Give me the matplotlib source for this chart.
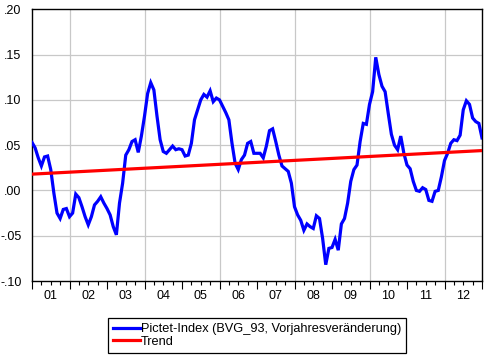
import matplotlib
matplotlib.use("Agg")
import matplotlib.pyplot as plt
import matplotlib.transforms as mtrans
import numpy as np

plt.rcParams['font.family'] = ['Liberation Sans', 'DejaVu Sans']

# Monthly observations, Jan 2001 onward (last point at the right edge)
start_year = 2001
pictet = [
    0.053, 0.047, 0.036, 0.027, 0.037, 0.038, 0.023, -0.003, -0.025, -0.031, -0.021, -0.020,
    -0.029, -0.025, -0.004, -0.008, -0.018, -0.029, -0.038, -0.029, -0.016, -0.012, -0.007, -0.014,
    -0.020, -0.027, -0.040, -0.049, -0.014, 0.008, 0.039, 0.045, 0.054, 0.056, 0.042, 0.060,
    0.082, 0.107, 0.119, 0.111, 0.082, 0.056, 0.043, 0.041, 0.045, 0.049, 0.045, 0.046,
    0.045, 0.038, 0.039, 0.052, 0.078, 0.089, 0.100, 0.106, 0.103, 0.110, 0.098, 0.102,
    0.100, 0.093, 0.086, 0.078, 0.052, 0.030, 0.023, 0.034, 0.039, 0.052, 0.054, 0.041,
    0.041, 0.041, 0.036, 0.049, 0.066, 0.068, 0.054, 0.039, 0.027, 0.024, 0.021, 0.008,
    -0.018, -0.027, -0.033, -0.044, -0.037, -0.040, -0.042, -0.028, -0.031, -0.053, -0.082, -0.064,
    -0.063, -0.054, -0.066, -0.037, -0.031, -0.014, 0.010, 0.023, 0.028, 0.054, 0.074, 0.073,
    0.095, 0.109, 0.147, 0.128, 0.115, 0.109, 0.085, 0.062, 0.050, 0.045, 0.060, 0.041,
    0.028, 0.024, 0.010, 0.000, -0.001, 0.003, 0.001, -0.011, -0.012, -0.001, 0.000, 0.015,
    0.033, 0.041, 0.052, 0.056, 0.055, 0.061, 0.089, 0.099, 0.095, 0.080, 0.076, 0.074,
    0.058,
]
trend_x = [2001.0, 2013.0]
trend_y = [0.018, 0.044]
year_labels = ["01", "02", "03", "04", "05", "06", "07", "08", "09", "10", "11", "12"]
y_ticks = [-0.10, -0.05, 0.00, 0.05, 0.10, 0.15, 0.20]
y_ticklabels = ["-.10", "-.05", ".00", ".05", ".10", ".15", ".20"]
series_names = ["Pictet-Index (BVG_93, Vorjahresveränderung)", "Trend"]

x = start_year + np.arange(len(pictet)) / 12.0

W, H = 485, 355
fig = plt.figure(figsize=(W / 100, H / 100), dpi=100)
L, R, T, B = 32, 482, 9.3, 281
ax = fig.add_axes([L / W, (H - B) / H, (R - L) / W, (B - T) / H])

# grid
for yv in y_ticks[1:-1]:
    ax.axhline(yv, color="#c8c8c8", lw=0.9, zorder=0)
for xv in range(2002, 2013, 2):
    ax.axvline(xv, color="#c8c8c8", lw=0.9, zorder=0)

l1, = ax.plot(x, pictet, color="#0000ff", lw=2.3, solid_joinstyle="miter", zorder=3)
l2, = ax.plot(trend_x, trend_y, color="#ff0000", lw=2.3, zorder=4)

ax.set_xlim(2001, 2013)
ax.set_ylim(-0.10, 0.20)
ax.set_yticks(y_ticks)
ax.set_yticklabels(y_ticklabels)
ax.tick_params(axis="y", length=0, pad=7.5, labelsize=9)

# x ticks: year starts (long), quarters (short), labels mid-year
ax.set_xticks(np.arange(2001, 2014))
ax.set_xticklabels([])
ax.tick_params(axis="x", which="major", length=5.5, width=0.8, direction="out")
qt = [2001 + q / 4 for q in range(0, 49) if q % 4 != 0]
ax.set_xticks(qt, minor=True)
ax.tick_params(axis="x", which="minor", length=3, width=0.8, direction="out")
mids = np.arange(2001, 2013) + 0.5
off = mtrans.ScaledTranslation(0, -9 / 100, fig.dpi_scale_trans)
for mx, lab in zip(mids, year_labels):
    ax.text(mx, -0.1, lab, transform=ax.transData + off, ha="center", va="top",
            fontsize=9, clip_on=False)

for s in ax.spines.values():
    s.set_linewidth(1.0)
    s.set_color("black")

leg = fig.legend([l1, l2], series_names, loc="upper center",
                 bbox_to_anchor=((L + R) / 2 / W, 1 - 318 / H),
                 fontsize=9.2, frameon=True, fancybox=False, framealpha=1,
                 edgecolor="black", borderpad=0.4, labelspacing=0.05,
                 handlelength=2.1, handletextpad=0.1, borderaxespad=0)
leg.get_frame().set_linewidth(0.9)

fig.savefig("out.png", dpi=100)
